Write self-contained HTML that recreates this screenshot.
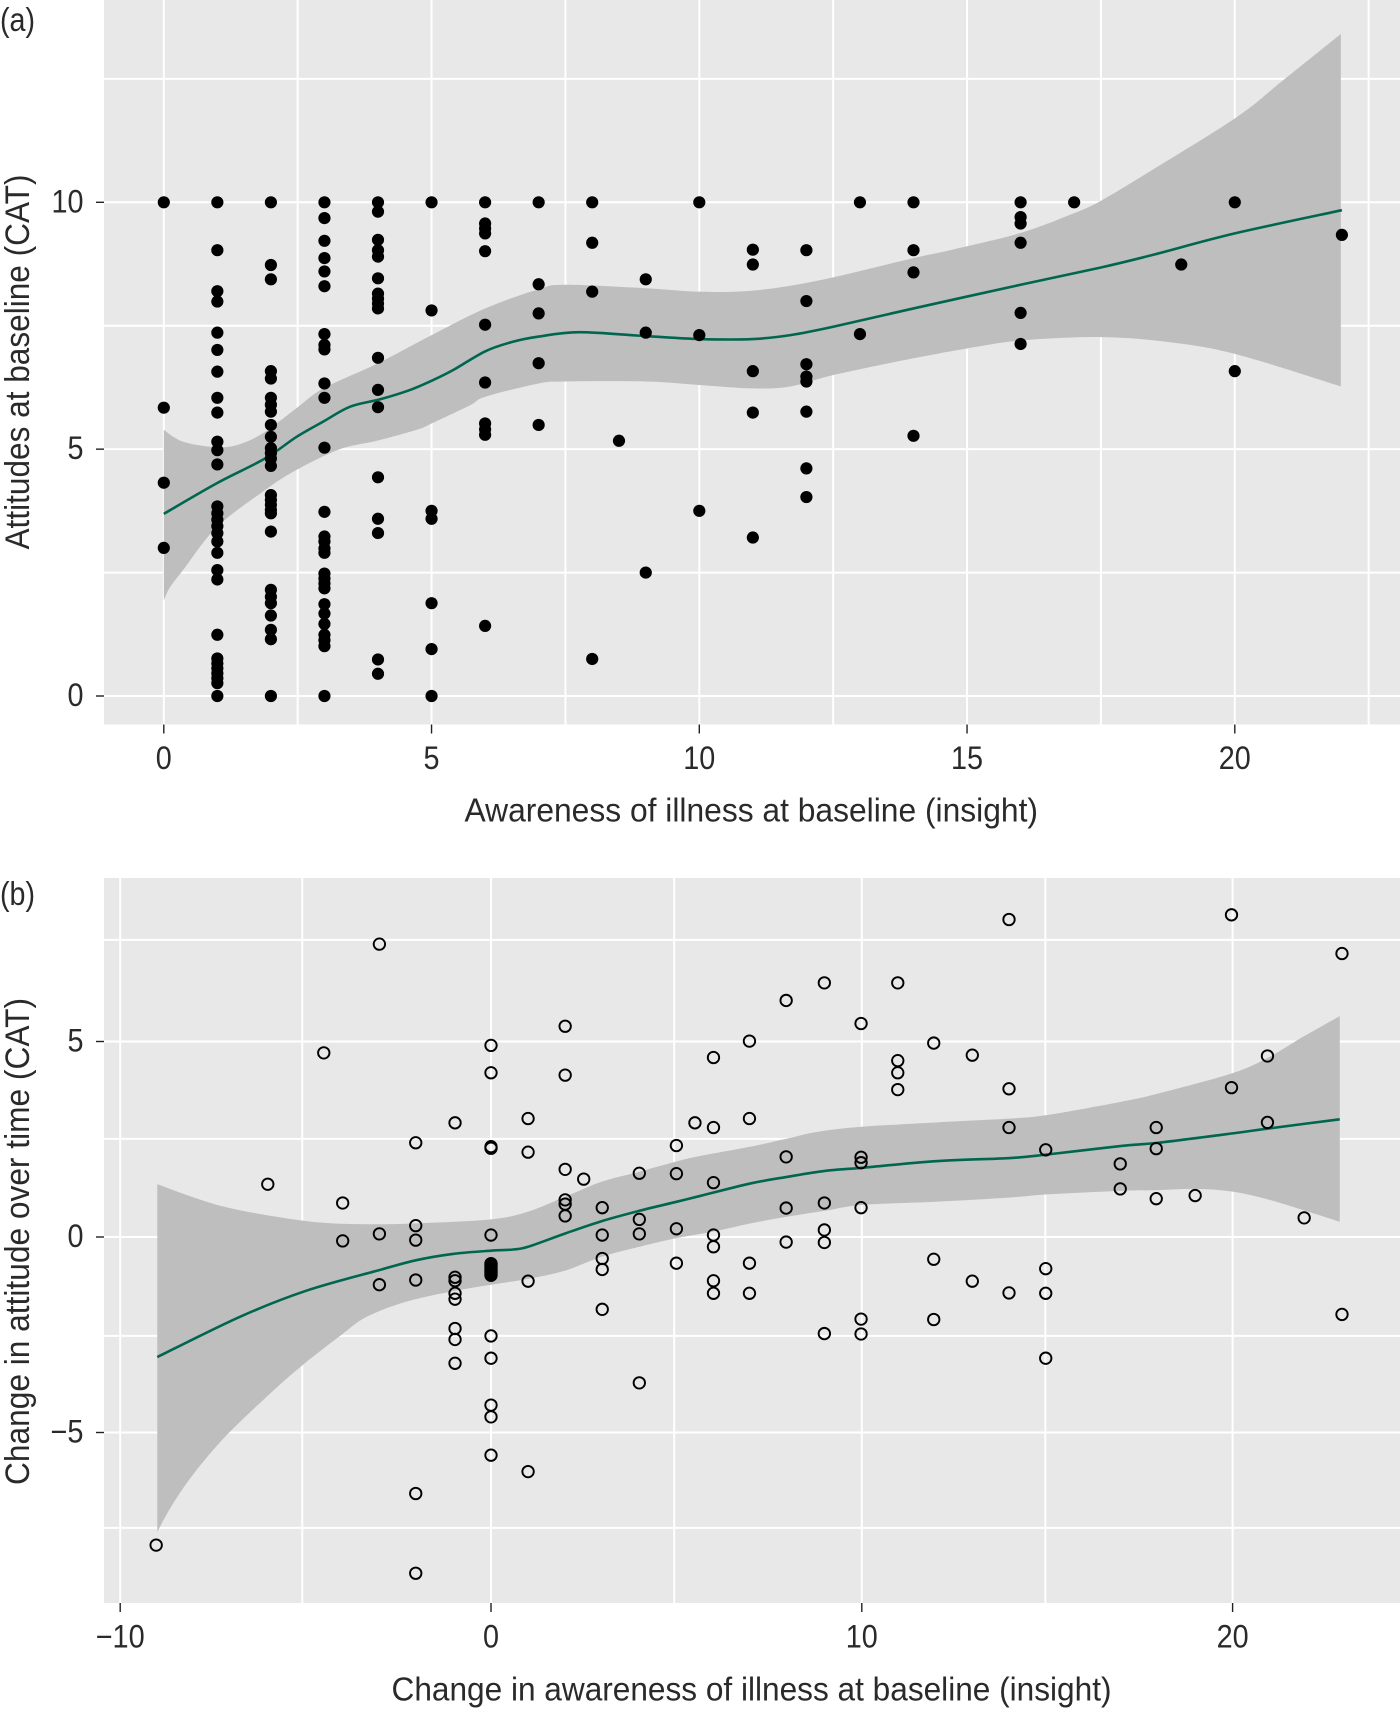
<!DOCTYPE html>
<html lang="en">
<head>
<meta charset="utf-8">
<title>Attitudes and awareness of illness scatter plots</title>
<style>
html,body{margin:0;padding:0;background:#fff}
svg{display:block}
text{font-family:"Liberation Sans",Arial,sans-serif;fill:#2a2a2a}
</style>
</head>
<body>
<svg id="figure" xmlns="http://www.w3.org/2000/svg" width="1400" height="1709" viewBox="0 0 1400 1709"></svg>
<script>
// ---------- Panel (a) data ----------
const aXMajorTicks = [0, 5, 10, 15, 20];
const aXMinorGrid = [2.5, 7.5, 12.5, 17.5, 22.5];
const aYMajorTicks = [0, 5, 10];
const aYMinorGrid = [2.5, 7.5, 12.5];
const aXTickLabels = ["0", "5", "10", "15", "20"];
const aYTickLabels = ["0", "5", "10"];

const aInsight = [
  0,0,0,0,
  1,1,1,1,1,1,1,1,1, 1,1,1,1,1,1,1,1,1,1, 1,1,1,1,1,1,1,1,1,1,
  2,2,2,2,2,2,2,2,2,2, 2,2,2,2,2,2,2,2,2,2, 2,2,2,2,2,2,2,
  3,3,3,3,3,3,3,3,3,3, 3,3,3,3,3,3,3,3,3,3, 3,3,3,3,3,3,3,3,
  4,4,4,4,4,4,4,4,4,4, 4,4,4,4,4,4,4,4,
  5,5,5,5,5,5,5,
  6,6,6,6,6,6,6,6,6,6,6,
  7,7,7,7,7,
  8,8,8,8,
  8.5,
  9,9,9,
  10,10,10,
  11,11,11,11,11,
  12,12,12,12,12,12,12,12,
  13,13,
  14,14,14,14,
  16,16,16,16,16,16,
  17,
  19,
  20,20,
  22
];
const aAttitude = [
  10,5.84,4.32,3.0,
  10,9.03,8.2,7.99,7.36,7.01,6.57,6.04,5.74, 5.15,4.98,4.69,3.84,3.7,3.57,3.44,3.3,3.13,2.9, 2.55,2.36,1.24,0.76,0.66,0.56,0.46,0.36,0.26,0,
  10,8.73,8.44,6.58,6.43,6.04,5.9,5.76,5.49,5.25, 5.02,4.92,4.81,4.66,4.07,3.97,3.87,3.77,3.7,3.33, 2.15,2.01,1.88,1.63,1.34,1.15,0,
  10,9.68,9.22,8.87,8.6,8.3,7.33,7.11,7.02,6.33, 6.04,5.03,3.73,3.23,3.13,2.99,2.9,2.48,2.38,2.28, 2.18,1.86,1.67,1.46,1.24,1.13,1.01,0,
  10,9.81,9.24,9.03,8.9,8.46,8.15,8.05,7.95,7.85, 6.85,6.2,5.85,4.43,3.59,3.3,0.74,0.45,
  10,7.81,3.75,3.59,1.88,0.95,0,
  10,9.57,9.47,9.37,9.01,7.52,6.35,5.52,5.4,5.29,1.42,
  10,8.34,7.75,6.74,5.49,
  10,9.18,8.19,0.75,
  5.17,
  8.44,7.36,2.5,
  10,7.31,3.75,
  9.04,8.74,6.58,5.74,3.21,
  9.03,8,6.72,6.47,6.37,5.76,4.61,4.03,
  10,7.33,
  10,9.03,8.58,5.27,
  10,9.7,9.57,9.18,7.76,7.13,
  10,
  8.74,
  10,6.58,
  9.34
];

const aFitX = [0,0.99,1.89,2.48,2.98,3.48,4.04,4.6,5.03,5.4,6,6.5,7,7.76,9,10,11,11.7,12.5,14,16,17.5,18.45,20,22];
const aFitY = [3.69,4.31,4.81,5.25,5.56,5.86,6.01,6.2,6.4,6.6,6.98,7.17,7.28,7.37,7.29,7.23,7.23,7.31,7.48,7.85,8.33,8.68,8.93,9.37,9.84];
const aUpperX = [0,0.36,0.99,1.42,1.89,2.48,2.98,4,5,6,7,7.5,9,10,11,12.2,14,14.68,16,17,17.53,18.42,20.03,20.9,21.98];
const aUpperY = [5.39,5.15,5.04,5.1,5.35,5.83,6.23,6.74,7.31,7.85,8.24,8.33,8.26,8.19,8.21,8.41,8.87,9.03,9.38,9.78,10.05,10.63,11.72,12.47,13.41];
const aLowerX = [0,0.12,0.36,0.99,1.89,2.48,3.29,3.98,4.72,5,5.72,6,7,7.5,9,10,11,11.7,12.5,14,15,16,17.5,18.75,20,21.98];
const aLowerY = [1.94,2.21,2.55,3.42,4.17,4.58,5.0,5.17,5.39,5.52,5.89,6.06,6.33,6.37,6.37,6.3,6.23,6.27,6.5,6.84,7.04,7.2,7.27,7.17,6.93,6.27];

// ---------- Panel (b) data ----------
const bXMajorTicks = [-10, 0, 10, 20];
const bXMinorGrid = [-5.09, 4.94, 14.95];
const bYMajorTicks = [-5, 0, 5];
const bYMinorGrid = [-7.44, -2.53, 2.51, 7.6];
const bXTickLabels = ["\u221210", "0", "10", "20"];
const bYTickLabels = ["\u22125", "0", "5"];

const bInsightChange = [
  -9.03,
  -6.02,
  -4.51,
  -4,-4,
  -3.01,-3.01,-3.01,
  -2.03,-2.03,-2.03,-2.03,-2.03,-2.03,
  -0.97,-0.97,-0.97,-0.97,-0.97,-0.97,-0.97,-0.97,
  0,0,0,0,0,0,0,0,0,0,0,0,0,0,0,0,0,0,0,0,0,
  1,1,1,1,
  2,2,2,2,2,2,
  2.5,
  3,3,3,3,3,
  4,4,4,4,
  5,5,5,5,
  5.5,
  6,6,6,6,6,6,6,
  6.97,6.97,6.97,6.97,
  7.96,7.96,7.96,7.96,
  8.99,8.99,8.99,8.99,8.99,
  9.98,9.98,9.98,9.98,9.98,9.98,
  10.97,10.97,10.97,10.97,
  11.94,11.94,11.94,
  12.98,12.98,
  13.97,13.97,13.97,13.97,
  14.96,14.96,14.96,14.96,
  16.97,16.97,
  17.94,17.94,17.94,
  18.99,
  19.97,19.97,
  20.94,20.94,
  21.93,
  22.95,22.95
];
const bAttitudeChange = [
  -7.88,
  1.35,
  4.71,
  0.87,-0.1,
  7.49,0.08,-1.22,
  2.41,0.29,-0.08,-1.1,-6.56,-8.6,
  2.92,-1.03,-1.12,-1.44,-1.59,-2.34,-2.62,-3.23,
  4.9,4.2,2.31,2.27,0.05,-0.68,-0.71,-0.74,-0.77,-0.8,-0.83,-0.86,-0.89,-0.92,-0.95,-0.98,-2.53,-3.1,-4.3,-4.6,-5.58,
  3.03,2.17,-1.13,-6,
  5.39,4.14,1.73,0.95,0.84,0.54,
  1.48,
  0.75,0.05,-0.55,-0.83,-1.85,
  1.63,0.45,0.08,-3.73,
  2.34,1.62,0.21,-0.67,
  2.92,
  4.59,2.8,1.39,0.05,-0.25,-1.12,-1.44,
  5.01,3.03,-0.67,-1.44,
  6.05,2.05,0.74,-0.13,
  6.5,0.87,0.18,-0.14,-2.47,
  5.46,2.04,1.9,0.75,-2.1,-2.48,
  6.5,4.51,4.2,3.77,
  4.96,-0.57,-2.11,
  4.65,-1.13,
  8.12,3.79,2.8,-1.43,
  2.23,-0.81,-1.44,-3.1,
  1.87,1.23,
  2.8,2.26,0.98,
  1.06,
  8.24,3.82,
  4.63,2.93,
  0.49,
  7.25,-1.98
];

const bFitX = [-9,-6.77,-4.97,-2.99,-2,-1,0,0.6,1,2,3,4,5,5.64,7,8,9,10,12,14,15,17,18,20,21,22.89];
const bFitY = [-3.07,-2.04,-1.37,-0.84,-0.59,-0.43,-0.35,-0.32,-0.25,0.09,0.41,0.67,0.9,1.05,1.37,1.54,1.69,1.77,1.94,2.02,2.11,2.33,2.41,2.65,2.78,3.01];
const bUpperX = [-9,-7.22,-5.08,-3.6,-2,0,1,2,3,4,5,5.63,7,8,8.8,10,12,14,15,17,18,20,21,21.9,22.89];
const bUpperY = [1.35,0.78,0.42,0.33,0.35,0.45,0.65,1.03,1.42,1.67,1.93,2.07,2.31,2.52,2.69,2.82,2.93,3.03,3.12,3.46,3.67,4.19,4.61,5.12,5.65];
const bLowerX = [-9,-8.57,-7.94,-7.08,-5.87,-5.06,-4.07,-3.35,-2.27,-1,0,1,2,3,4,5,6,7,8,9,10,12,14,15,17,18,19,20,21,21.9,22.89];
const bLowerY = [-7.54,-6.81,-5.96,-5.02,-3.93,-3.26,-2.53,-2.04,-1.65,-1.38,-1.22,-1.07,-0.86,-0.5,-0.25,-0.03,0.14,0.35,0.52,0.67,0.82,0.9,1.01,1.09,1.18,1.2,1.23,1.16,0.95,0.69,0.39];

// ---------- Drawing ----------
const NS = "http://www.w3.org/2000/svg";
const svg = document.getElementById("figure");

function make(tag, attrs, parent) {
  const node = document.createElementNS(NS, tag);
  for (const key in attrs) node.setAttribute(key, attrs[key]);
  parent.appendChild(node);
  return node;
}

// Axis functions
const axA = {
  x: v => 163.8 + 53.55 * v,
  y: v => 696 - 49.37 * v
};
const axB = {
  x: v => 491 + 37.08 * v,
  y: v => 1237 - 39.1 * v
};

function curve(pts) {
  const d = "M" + pts[0][0].toFixed(2) + " " + pts[0][1].toFixed(2);
  return d + curveSegments(pts);
}
function curveSegments(pts) {
  let d = "";
  for (let i = 0; i < pts.length - 1; i++) {
    const p0 = pts[Math.max(i - 1, 0)], p1 = pts[i], p2 = pts[i + 1], p3 = pts[Math.min(i + 2, pts.length - 1)];
    const c1x = p1[0] + (p2[0] - p0[0]) / 6, c1y = p1[1] + (p2[1] - p0[1]) / 6;
    const c2x = p2[0] - (p3[0] - p1[0]) / 6, c2y = p2[1] - (p3[1] - p1[1]) / 6;
    d += "C" + c1x.toFixed(2) + " " + c1y.toFixed(2) + " " + c2x.toFixed(2) + " " + c2y.toFixed(2) + " " + p2[0].toFixed(2) + " " + p2[1].toFixed(2);
  }
  return d;
}
function toPixels(ax, xs, ys) {
  return xs.map((v, i) => [ax.x(v), ax.y(ys[i])]);
}

function tickWidth(label) {
  let w = 0;
  for (const ch of label) w += ch === "\u2212" ? 17 : 16;
  return w;
}

function drawPanel(cfg) {
  const ax = cfg.ax;
  const g = make("g", {}, svg);
  
  

  const bg = make("rect", {x: 104, y: cfg.top, width: 1296, height: cfg.bottom - cfg.top, fill: "#e8e8e8"}, g);
  
  

  cfg.xMinor.forEach(v => {
    const line = make("line", {x1: ax.x(v), x2: ax.x(v), y1: cfg.top, y2: cfg.bottom, stroke: "#fff", "stroke-width": 2}, g);
    
    
  });
  cfg.yMinor.forEach(v => {
    const line = make("line", {x1: 104, x2: 1400, y1: ax.y(v), y2: ax.y(v), stroke: "#fff", "stroke-width": 2}, g);
    
    
  });
  cfg.xMajor.forEach((v, i) => {
    const line = make("line", {x1: ax.x(v), x2: ax.x(v), y1: cfg.top, y2: cfg.bottom, stroke: "#fff", "stroke-width": 2}, g);
    
    
    const tick = make("line", {x1: ax.x(v), x2: ax.x(v), y1: cfg.bottom, y2: cfg.bottom + 9, stroke: "#222", "stroke-width": 1.4}, g);
    
    
    const label = make("text", {x: ax.x(v), y: cfg.bottom + 44.5, "text-anchor": "middle", "font-size": 32, textLength: tickWidth(cfg.xLabels[i]), lengthAdjust: "spacingAndGlyphs"}, g);
    label.textContent = cfg.xLabels[i];
    
    
  });
  cfg.yMajor.forEach((v, i) => {
    const line = make("line", {x1: 104, x2: 1400, y1: ax.y(v), y2: ax.y(v), stroke: "#fff", "stroke-width": 2}, g);
    
    
    const tick = make("line", {x1: 96, x2: 104, y1: ax.y(v), y2: ax.y(v), stroke: "#222", "stroke-width": 1.4}, g);
    
    
    const w = tickWidth(cfg.yLabels[i]);
    const label = make("text", {x: 83.5 - w, y: ax.y(v) + 10, "font-size": 32, textLength: w, lengthAdjust: "spacingAndGlyphs"}, g);
    label.textContent = cfg.yLabels[i];
    
    
  });

  // Confidence ribbon
  const up = toPixels(ax, cfg.upperX, cfg.upperY);
  const lo = toPixels(ax, cfg.lowerX, cfg.lowerY).reverse();
  const ribbonD = curve(up) + "L" + lo[0][0].toFixed(2) + " " + lo[0][1].toFixed(2) + curveSegments(lo) + "Z";
  const ribbon = make("path", {d: ribbonD, fill: "#bebebe"}, g);
  
  

  // Fitted line
  const fit = make("path", {d: curve(toPixels(ax, cfg.fitX, cfg.fitY)), fill: "none", stroke: "#00664f", "stroke-width": 2.6}, g);
  
  

  // Points
  cfg.pointsX.forEach((v, i) => {
    const dot = make("circle", cfg.open
      ? {cx: ax.x(v), cy: ax.y(cfg.pointsY[i]), r: 5.7, fill: "none", stroke: "#000", "stroke-width": 1.9}
      : {cx: ax.x(v), cy: ax.y(cfg.pointsY[i]), r: 6.1, fill: "#000"}, g);
    
    
  });

  // Titles
  const xt = make("text", {x: cfg.xTitleX, y: cfg.xTitleY, "font-size": 33, textLength: cfg.xTitleLen, lengthAdjust: "spacingAndGlyphs"}, g);
  xt.textContent = cfg.xTitle;
  
  

  const yt = make("text", {transform: "translate(29 " + cfg.yTitleStart + ") rotate(-90)", x: 0, y: 0, "font-size": 34, textLength: cfg.yTitleLen, lengthAdjust: "spacingAndGlyphs"}, g);
  yt.textContent = cfg.yTitle;
  
  

  const tag = make("text", {x: 0, y: cfg.tagY, "font-size": 33, textLength: 35, lengthAdjust: "spacingAndGlyphs"}, g);
  tag.textContent = cfg.tag;
  
  
}

drawPanel({
  name: "panel-a", ax: axA, top: 0, bottom: 724.5, open: false,
  xMajor: aXMajorTicks, xMinor: aXMinorGrid, yMajor: aYMajorTicks, yMinor: aYMinorGrid,
  xLabels: aXTickLabels, yLabels: aYTickLabels,
  pointsX: aInsight, pointsY: aAttitude,
  fitX: aFitX, fitY: aFitY, upperX: aUpperX, upperY: aUpperY, lowerX: aLowerX, lowerY: aLowerY,
  xTitle: "Awareness of illness at baseline (insight)", xTitleX: 464.5, xTitleY: 821.5, xTitleLen: 573.5,
  yTitle: "Attitudes at baseline (CAT)", yTitleStart: 549.5, yTitleLen: 375,
  tag: "(a)", tagY: 31
});
drawPanel({
  name: "panel-b", ax: axB, top: 878, bottom: 1603, open: true,
  xMajor: bXMajorTicks, xMinor: bXMinorGrid, yMajor: bYMajorTicks, yMinor: bYMinorGrid,
  xLabels: bXTickLabels, yLabels: bYTickLabels,
  pointsX: bInsightChange, pointsY: bAttitudeChange,
  fitX: bFitX, fitY: bFitY, upperX: bUpperX, upperY: bUpperY, lowerX: bLowerX, lowerY: bLowerY,
  xTitle: "Change in awareness of illness at baseline (insight)", xTitleX: 391.5, xTitleY: 1700.5, xTitleLen: 720,
  yTitle: "Change in attitude over time (CAT)", yTitleStart: 1485, yTitleLen: 487,
  tag: "(b)", tagY: 905
});
</script>
</body>
</html>
